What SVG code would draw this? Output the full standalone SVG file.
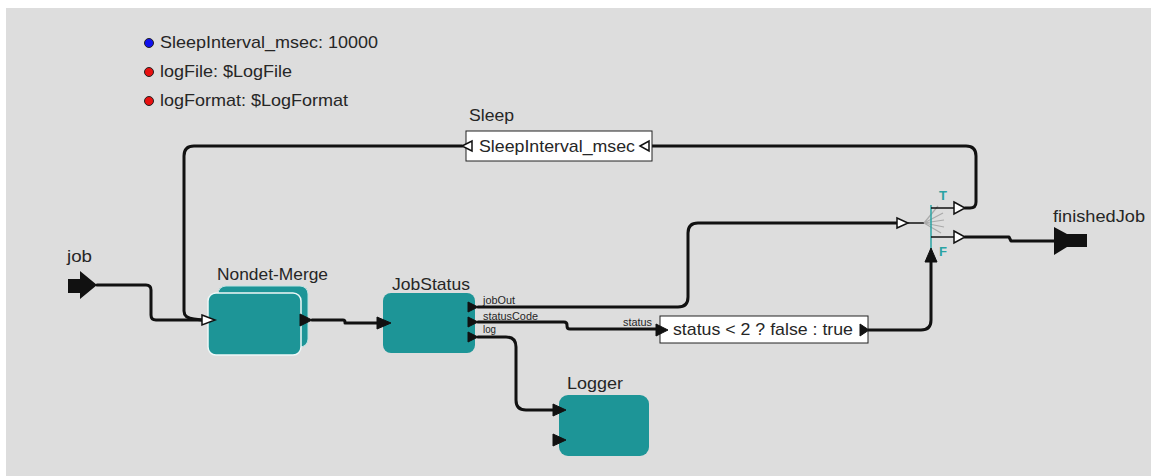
<svg xmlns="http://www.w3.org/2000/svg" width="1151" height="476" viewBox="0 0 1151 476">
<style>
text{font-family:"Liberation Sans",Arial,sans-serif;fill:#262626}
.lbl{font-size:17px}
.sm{font-size:11px}
.actor{fill:#1d9597}
.wire{fill:none;stroke:#111;stroke-width:3;stroke-linejoin:round;stroke-linecap:round}
.pin{fill:#111;stroke:#111;stroke-width:1}
.pout{fill:#fff;stroke:#111;stroke-width:1.5}
.tf{font-size:13px;font-weight:bold;fill:#2aa3a3}
</style>
<rect x="6" y="8" width="1145" height="468" fill="#dddddd"/>

<g id="params">
<circle cx="149" cy="43" r="4.5" fill="#1010ee" stroke="#222" stroke-width="1"/>
<text class="lbl" x="160" y="48" textLength="218" lengthAdjust="spacingAndGlyphs">SleepInterval_msec: 10000</text>
<circle cx="149" cy="72" r="4.5" fill="#e81010" stroke="#222" stroke-width="1"/>
<text class="lbl" x="160" y="77" textLength="132" lengthAdjust="spacingAndGlyphs">logFile: $LogFile</text>
<circle cx="149" cy="101" r="4.5" fill="#e81010" stroke="#222" stroke-width="1"/>
<text class="lbl" x="160" y="106" textLength="188" lengthAdjust="spacingAndGlyphs">logFormat: $LogFormat</text>
</g>

<g id="connectors">
<path class="wire" d="M97,285 H146 Q151,285 151,290 V315 Q151,320 156,320 H202"/>
<path class="wire" d="M462,146 H194 Q184,146 184,156 V311 Q184,318 194,319 L202,320"/>
<path class="wire" d="M965,208 H970 Q976,208 976,202 V156 Q976,146 966,146 H649"/>
<path class="wire" d="M312,320 H343 Q345,320 345,322 V323 H378"/>
<path class="wire" d="M478,307 H678 Q688,307 688,297 V233 Q688,223 698,223 H897"/>
<path class="wire" d="M478,322 H564 Q567,322 567,325 V326 Q567,329 570,329 H660"/>
<path class="wire" d="M868,330 H921 Q931,330 931,320 V262"/>
<path class="wire" d="M478,337 H506 Q516,337 516,347 V400 Q516,410 526,410 H553"/>
<path class="wire" d="M965,237 H1009 L1011,241 H1054"/>
</g>

<g id="job">
<text class="lbl" x="67" y="262" textLength="25" lengthAdjust="spacingAndGlyphs">job</text>
<polygon points="68,279 80,279 80,271 97,285 80,299 80,293 68,293" fill="#111"/>
</g>

<g id="finishedJob">
<text class="lbl" x="1053" y="222" textLength="92" lengthAdjust="spacingAndGlyphs">finishedJob</text>
<polygon points="1054,227 1067,234 1087,234 1087,247 1067,247 1054,255" fill="#111"/>
</g>

<g id="sleep">
<text class="lbl" x="469" y="121" textLength="45" lengthAdjust="spacingAndGlyphs">Sleep</text>
<rect x="466" y="131" width="186" height="30" fill="#fff" stroke="#222" stroke-width="1"/>
<text class="lbl" x="479" y="152" textLength="156" lengthAdjust="spacingAndGlyphs">SleepInterval_msec</text>
<polygon class="pout" points="462,146 472,141 472,151"/>
<polygon class="pout" points="640,146 649,141 649,151"/>
</g>

<g id="nondetMerge">
<text class="lbl" x="217" y="280" textLength="111" lengthAdjust="spacingAndGlyphs">Nondet-Merge</text>
<rect class="actor" x="218" y="286" width="90" height="61" rx="8" stroke="#bfe3e3" stroke-width="1"/>
<rect class="actor" x="208" y="293" width="93" height="62" rx="8" stroke="#eef8f8" stroke-width="1.5"/>
<polygon class="pout" points="202,315 215,320 202,325"/>
<polygon class="pin" points="300,314 312,320 300,326"/>
</g>

<g id="jobStatus">
<text class="lbl" x="392" y="290" textLength="78" lengthAdjust="spacingAndGlyphs">JobStatus</text>
<rect class="actor" x="383" y="293" width="92" height="60" rx="8"/>
<polygon class="pin" points="377,317 391,323 377,329"/>
<polygon class="pin" points="468,302 478,307 468,312"/>
<polygon class="pin" points="468,317 478,322 468,327"/>
<polygon class="pin" points="468,332 478,337 468,342"/>
<text class="sm" x="483" y="304" textLength="32" lengthAdjust="spacingAndGlyphs">jobOut</text>
<text class="sm" x="483" y="320" textLength="55" lengthAdjust="spacingAndGlyphs">statusCode</text>
<text class="sm" x="483" y="333" textLength="13" lengthAdjust="spacingAndGlyphs">log</text>
</g>

<g id="expression">
<text class="sm" x="623" y="326" textLength="29" lengthAdjust="spacingAndGlyphs">status</text>
<rect x="660" y="316" width="208" height="27" fill="#fff" stroke="#222" stroke-width="1"/>
<text class="lbl" x="673" y="335" textLength="180" lengthAdjust="spacingAndGlyphs">status &lt; 2 ? false : true</text>
<polygon class="pin" points="656,324 668,330 656,336"/>
<polygon class="pin" points="860,324 869,330 860,336"/>
</g>

<g id="logger">
<text class="lbl" x="567" y="389" textLength="56" lengthAdjust="spacingAndGlyphs">Logger</text>
<rect class="actor" x="559" y="395" width="90" height="61" rx="9"/>
<polygon class="pin" points="553,404 566,410 553,416"/>
<polygon class="pin" points="553,434 566,440 553,446"/>
</g>

<g id="booleanSwitch">
<line x1="908" y1="223" x2="924" y2="223" stroke="#111" stroke-width="1.5"/>
<g stroke="#aaa" stroke-width="1.2">
<line x1="924" y1="223" x2="938" y2="206"/>
<line x1="924" y1="223" x2="943" y2="213"/>
<line x1="924" y1="223" x2="944" y2="220"/>
<line x1="924" y1="223" x2="944" y2="227"/>
<line x1="924" y1="223" x2="941" y2="233"/>
</g>
<line x1="931" y1="205" x2="931" y2="250" stroke="#2aa3a3" stroke-width="1.5"/>
<line x1="931" y1="208" x2="954" y2="208" stroke="#111" stroke-width="1.5"/>
<line x1="931" y1="237" x2="954" y2="237" stroke="#111" stroke-width="1.5"/>
<polygon class="pout" points="897,218 908,223 897,228"/>
<polygon class="pout" points="954,202 965,208 954,214"/>
<polygon class="pout" points="954,231 965,237 954,243"/>
<polygon class="pin" points="931,248 937,262 925,262"/>
<text class="tf" x="939" y="200">T</text>
<text class="tf" x="939" y="256">F</text>
</g>
</svg>
